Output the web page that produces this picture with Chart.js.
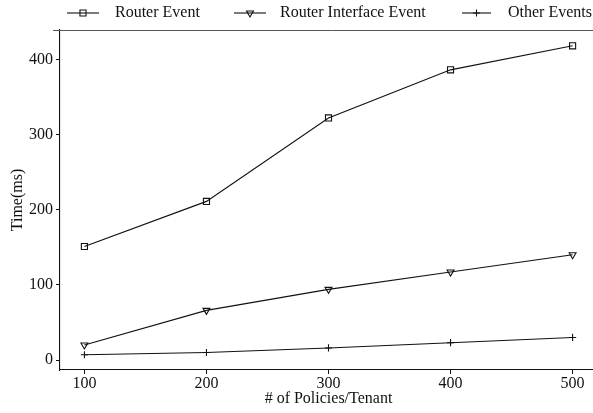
<!DOCTYPE html>
<html>
<head>
<meta charset="utf-8">
<script src="https://cdn.jsdelivr.net/npm/chart.js@4.4.1/dist/chart.umd.min.js"></script>
<style>
  html, body { margin: 0; padding: 0; background: #fff; overflow: hidden; width: 593px; height: 413px; }
  canvas { display: block; }
</style>
</head>
<body>
<canvas id="c" width="610" height="413" style="width:610px;height:413px"></canvas>
<script>
// Policies per tenant (x) and event processing times in ms (y)
const policies = [100, 200, 300, 400, 500];
const routerEvent = [151, 211, 322, 386, 418];
const routerInterfaceEvent = [20, 66, 94, 117, 140];
const otherEvents = [7, 10, 16, 23, 30];

const xTicks = [100, 200, 300, 400, 500];
const yTicks = [0, 100, 200, 300, 400];
const seriesNames = ['Router Event', 'Router Interface Event', 'Other Events'];

const FONT = "'Liberation Serif', 'Times New Roman', serif";
const INK = '#111';

const markers = [
  { pointStyle: 'rect', radius: 4.3, rotation: 0 },
  { pointStyle: 'triangle', radius: 4, rotation: 180 },
  { pointStyle: 'cross', radius: 3.6, rotation: 0 }
];

function points(values) {
  return policies.map((p, i) => ({ x: p, y: values[i] }));
}

const datasets = [routerEvent, routerInterfaceEvent, otherEvents].map((vals, i) => ({
  label: seriesNames[i],
  data: points(vals),
  borderColor: INK,
  borderWidth: 1.1,
  backgroundColor: 'transparent',
  pointStyle: markers[i].pointStyle,
  pointRadius: markers[i].radius,
  pointRotation: markers[i].rotation,
  pointBorderColor: INK,
  pointBackgroundColor: 'transparent',
  pointBorderWidth: 1.1,
  tension: 0,
  fill: false
}));

// Legend row across the top: short line with the series marker, then the name
const topLegend = {
  id: 'topLegend',
  afterDraw(chart) {
    const ctx = chart.ctx;
    const y = 13;
    const items = [
      { x0: 67, x1: 99, text: 115 },
      { x0: 234, x1: 266, text: 280 },
      { x0: 462, x1: 491, text: 508 }
    ];
    ctx.save();
    items.forEach((it, i) => {
      ctx.strokeStyle = INK;
      ctx.lineWidth = 1.1;
      ctx.beginPath();
      ctx.moveTo(it.x0, y);
      ctx.lineTo(it.x1, y);
      ctx.stroke();
      ctx.fillStyle = 'rgba(0,0,0,0)';
      Chart.helpers.drawPoint(ctx, {
        pointStyle: markers[i].pointStyle,
        radius: markers[i].radius,
        rotation: markers[i].rotation,
        borderWidth: 1.1
      }, (it.x0 + it.x1) / 2, y);
      ctx.fillStyle = INK;
      ctx.font = '16px ' + FONT;
      ctx.textBaseline = 'middle';
      ctx.textAlign = 'left';
      ctx.fillText(seriesNames[i], it.text, y);
    });
    // thin rule under the legend row
    ctx.strokeStyle = '#555';
    ctx.lineWidth = 1;
    ctx.beginPath();
    ctx.moveTo(53, chart.chartArea.top + 0.5);
    ctx.lineTo(chart.width, chart.chartArea.top + 0.5);
    ctx.stroke();
    ctx.restore();
  }
};

new Chart(document.getElementById('c'), {
  type: 'line',
  data: { datasets },
  plugins: [topLegend],
  options: {
    responsive: false,
    animation: false,
    layout: { padding: { top: 30, right: 13, bottom: 0, left: 0 } },
    plugins: { legend: { display: false }, tooltip: { enabled: false } },
    scales: {
      x: {
        type: 'linear',
        min: 80,
        max: 520,
        afterBuildTicks: s => { s.ticks = xTicks.map(v => ({ value: v })); },
        afterFit: s => { s.height = 43; },
        grid: { drawOnChartArea: false, drawTicks: true, tickLength: 4, tickColor: INK, tickWidth: 1 },
        border: { display: true, color: INK, width: 1.1 },
        ticks: { color: INK, font: { family: FONT, size: 16 }, padding: 0, maxRotation: 0 },
        title: { display: true, text: '# of Policies/Tenant', color: INK,
                 font: { family: FONT, size: 16 }, padding: { top: 0, bottom: 5 } }
      },
      y: {
        type: 'linear',
        min: -13.3,
        max: 439,
        afterBuildTicks: s => { s.ticks = yTicks.map(v => ({ value: v })); },
        afterFit: s => { s.width = 60; },
        grid: { drawOnChartArea: false, drawTicks: true, tickLength: 4, tickColor: INK, tickWidth: 1 },
        border: { display: true, color: INK, width: 1.1 },
        ticks: { color: INK, font: { family: FONT, size: 16 }, padding: 3 },
        title: { display: true, text: 'Time(ms)', color: INK,
                 font: { family: FONT, size: 16 }, padding: { top: 8, bottom: 0 } }
      }
    }
  }
});
</script>
</body>
</html>
